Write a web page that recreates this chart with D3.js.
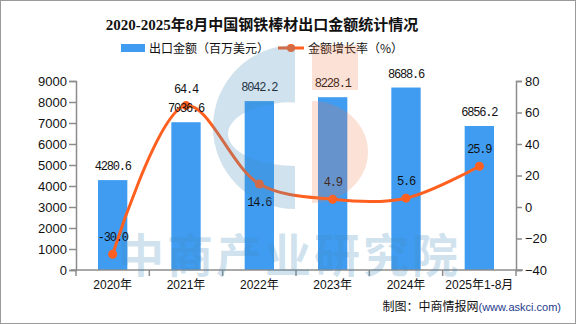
<!DOCTYPE html>
<html>
  <head>
    <meta charset="utf-8">
    <title>2020-2025年8月中国钢铁棒材出口金额统计情况</title>
    <script src="https://cdn.jsdelivr.net/npm/d3@7/dist/d3.min.js"></script>
    <style>
      body { margin: 0; background: #fff; }
      svg { display: block; }
      .axis-l text, .axis-r text { font-family: "Liberation Sans", Arial, sans-serif; font-size: 13px; fill: #111; }
      .cjk { font-family: "Liberation Sans", "Noto Sans CJK SC", sans-serif; }
      .num { font-family: "Liberation Mono", monospace; font-size: 12px; letter-spacing: -1.2px; fill: #111; }
    </style>
  </head>
  <body>
    <div id="chart"></div>
    <script>
      // data
      var years = ["2020年", "2021年", "2022年", "2023年", "2024年", "2025年1-8月"];
      var exportValue = [4280.6, 7036.6, 8042.2, 8228.1, 8688.6, 6856.2];   // 百万美元
      var growthRate = [-30.0, 64.4, 14.6, 4.9, 5.6, 25.9];                 // %
      var leftTicks = [0, 1000, 2000, 3000, 4000, 5000, 6000, 7000, 8000, 9000];
      var rightTicks = [-40, -20, 0, 20, 40, 60, 80];
      var growthLabelSide = ["top", "top", "bottom", "top", "top", "top"];

      var W = 576, H = 324;
      var margin = {top: 81, right: 60, bottom: 54, left: 76};
      var width = W - margin.left - margin.right,
          height = H - margin.top - margin.bottom;

      var barColor = "#3f9cf1", lineColor = "#ff6020", axisColor = "#8c8c8c";

      var svg = d3.select("#chart").append("svg")
          .attr("width", W)
          .attr("height", H);

      svg.append("rect")
          .attr("x", 0.5).attr("y", 0.5)
          .attr("width", W - 1).attr("height", H - 1)
          .attr("fill", "#fff")
          .attr("stroke", "#9a9a9a");

      var g = svg.append("g")
          .attr("transform", "translate(" + margin.left + "," + margin.top + ")");

      // scales
      var x = d3.scaleBand().domain(years).range([0, width]);
      var yL = d3.scaleLinear().domain([0, 9000]).range([height, 0]);
      var yR = d3.scaleLinear().domain([-40, 80]).range([height, 0]);
      var barW = x.bandwidth() * 0.4;

      // title
      svg.append("text")
          .attr("x", W / 2 - 26).attr("y", 30)
          .attr("text-anchor", "middle")
          .attr("font-family", "'Liberation Serif', 'Noto Sans CJK SC', serif")
          .attr("font-weight", "bold")
          .attr("font-size", 15)
          .attr("fill", "#111")
          .text("2020-2025年8月中国钢铁棒材出口金额统计情况");

      // legend
      var lg = svg.append("g").attr("class", "cjk").attr("font-size", 12).attr("fill", "#111");
      lg.append("rect").attr("x", 121).attr("y", 44).attr("width", 24).attr("height", 8).attr("fill", barColor);
      lg.append("text").attr("x", 149).attr("y", 53).attr("font-family", "'Noto Sans CJK SC', sans-serif").text("出口金额（百万美元）");
      lg.append("line").attr("x1", 278).attr("x2", 304).attr("y1", 48).attr("y2", 48)
          .attr("stroke", lineColor).attr("stroke-width", 3);
      lg.append("circle").attr("cx", 291).attr("cy", 48).attr("r", 4).attr("fill", lineColor);
      lg.append("text").attr("x", 308).attr("y", 53).attr("font-family", "'Noto Sans CJK SC', sans-serif").text("金额增长率（%）");

      // bars
      g.selectAll(".bar")
        .data(exportValue)
        .enter().append("rect")
          .attr("class", "bar")
          .attr("x", function(d, i) { return x(years[i]) + (x.bandwidth() - barW) / 2; })
          .attr("y", function(d) { return yL(d); })
          .attr("width", barW)
          .attr("height", function(d) { return height - yL(d); })
          .attr("fill", barColor);

      // growth line
      var line = d3.line()
          .x(function(d, i) { return x(years[i]) + x.bandwidth() / 2; })
          .y(function(d) { return yR(d); })
          .curve(d3.curveCatmullRom.alpha(0.5));

      g.append("path")
          .datum(growthRate)
          .attr("d", line)
          .attr("fill", "none")
          .attr("stroke", lineColor)
          .attr("stroke-width", 3);

      g.selectAll(".pt")
        .data(growthRate)
        .enter().append("circle")
          .attr("class", "pt")
          .attr("cx", function(d, i) { return x(years[i]) + x.bandwidth() / 2; })
          .attr("cy", function(d) { return yR(d); })
          .attr("r", 4.5)
          .attr("fill", lineColor);

      // watermark (semi transparent, over the marks)
      var wm = svg.append("g");
      wm.append("path")
          .attr("fill-rule", "evenodd")
          .attr("fill", "rgba(70,140,190,0.25)")
          .attr("d", "M295,45 A82,82 0 0 0 295,209 Z M295,102 A67,32 0 0 0 295,166 Z");
      wm.append("rect").attr("x", 312).attr("y", 45).attr("width", 46).attr("height", 45)
          .attr("fill", "rgba(240,120,70,0.22)");
      wm.append("path")
          .attr("fill", "rgba(240,120,70,0.22)")
          .attr("d", "M312,101 A56,51 0 0 1 312,203 Z");
      wm.append("text")
          .attr("x", 118).attr("y", 272)
          .attr("font-family", "'Noto Sans CJK SC', sans-serif")
          .attr("font-weight", "bold")
          .attr("font-size", 46)
          .attr("textLength", 340)
          .attr("lengthAdjust", "spacing")
          .attr("fill", "rgba(70,140,190,0.25)")
          .text("中商产业研究院");

      // value labels
      g.selectAll(".bar-label")
        .data(exportValue)
        .enter().append("text")
          .attr("class", "num")
          .attr("text-anchor", "middle")
          .attr("x", function(d, i) { return x(years[i]) + x.bandwidth() / 2; })
          .attr("y", function(d) { return yL(d) - 10; })
          .text(function(d) { return d.toFixed(1); });

      g.selectAll(".rate-label")
        .data(growthRate)
        .enter().append("text")
          .attr("class", "num")
          .attr("text-anchor", "middle")
          .attr("x", function(d, i) { return x(years[i]) + x.bandwidth() / 2; })
          .attr("y", function(d, i) {
            return growthLabelSide[i] === "bottom" ? yR(d) + 22 : yR(d) - 13;
          })
          .text(function(d) { return d.toFixed(1); });

      // axes
      var axL = g.append("g").attr("class", "axis-l")
          .call(d3.axisLeft(yL).tickValues(leftTicks).tickSize(7).tickPadding(2).tickFormat(d3.format("d")));
      var axR = g.append("g").attr("class", "axis-r")
          .attr("transform", "translate(" + width + ",0)")
          .call(d3.axisRight(yR).tickValues(rightTicks).tickSize(6).tickPadding(3));
      [axL, axR].forEach(function(a) {
        a.select(".domain").attr("stroke", axisColor).attr("stroke-width", 1.5);
        a.selectAll(".tick line").attr("stroke", axisColor).attr("stroke-width", 1.5);
      });

      var axX = g.append("g")
          .attr("transform", "translate(0," + height + ")");
      axX.append("line")
          .attr("x1", -5).attr("x2", width + 7)
          .attr("stroke", axisColor).attr("stroke-width", 1.5);
      axX.selectAll(".xt")
        .data(d3.range(years.length + 1))
        .enter().append("line")
          .attr("x1", function(i) { return x.step() * i; })
          .attr("x2", function(i) { return x.step() * i; })
          .attr("y1", 0).attr("y2", 6)
          .attr("stroke", axisColor).attr("stroke-width", 1.5);
      axX.selectAll(".xl")
        .data(years)
        .enter().append("text")
          .attr("class", "cjk")
          .attr("font-size", 12)
          .attr("fill", "#111")
          .attr("text-anchor", "middle")
          .attr("x", function(d) { return x(d) + x.bandwidth() / 2; })
          .attr("y", 19)
          .text(function(d) { return d; });

      // footer
      var ft = svg.append("text")
          .attr("x", 561).attr("y", 311)
          .attr("text-anchor", "end");
      ft.append("tspan")
          .attr("font-family", "'Noto Sans CJK SC', sans-serif")
          .attr("font-size", 12)
          .attr("fill", "#111")
          .text("制图：中商情报网");
      ft.append("tspan")
          .attr("font-family", "'Liberation Sans', sans-serif")
          .attr("font-size", 11)
          .attr("fill", "#1f3c8c")
          .text("(www.askci.com)");
    </script>
  </body>
</html>
